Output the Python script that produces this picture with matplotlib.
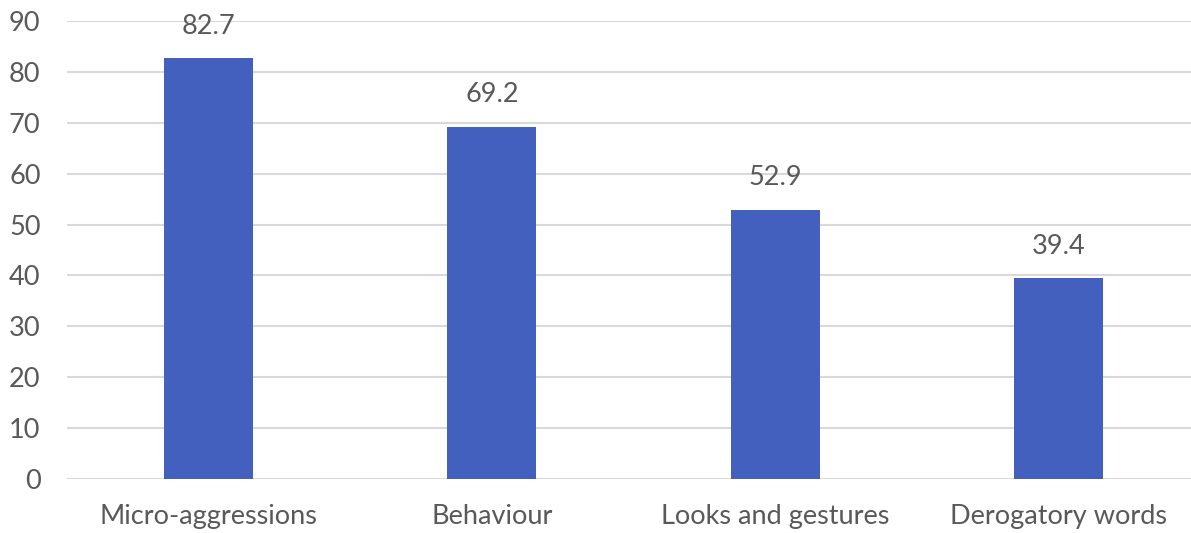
import matplotlib.pyplot as plt

categories = ["Micro-aggressions", "Behaviour", "Looks and gestures", "Derogatory words"]
values = [82.7, 69.2, 52.9, 39.4]
yticks = [0, 10, 20, 30, 40, 50, 60, 70, 80, 90]

plt.rcParams['font.family'] = ['Lato', 'DejaVu Sans']
text_color = "#595959"
fs = 19.5

fig = plt.figure(figsize=(11.91, 5.33), dpi=100)
ax = fig.add_axes([67 / 1191, 1 - 479 / 533, 1 - 67 / 1191, (479 - 21) / 533])

x = range(len(categories))
ax.bar(x, values, width=0.314, color="#4360BE", zorder=3)

# value labels above each bar
for xi, v in zip(x, values):
    ax.annotate(f"{v}", (xi, v), xytext=(0, 14), textcoords="offset points",
                ha="center", va="bottom", fontsize=fs, color=text_color)

ax.set_xlim(-0.5, 3.5 - 9 / 283.3)
ax.set_ylim(0, 90)
ax.set_yticks(yticks)
ax.set_xticks(list(x))
ax.set_xticklabels(categories)
ax.tick_params(axis="both", length=0, labelsize=fs, labelcolor=text_color)
ax.tick_params(axis="y", pad=19)
ax.tick_params(axis="x", pad=18)

ax.yaxis.grid(True, color="#D9D9D9", linewidth=1.5, zorder=0)
for s in ax.spines.values():
    s.set_visible(False)

fig.savefig("out.png", dpi=100)
